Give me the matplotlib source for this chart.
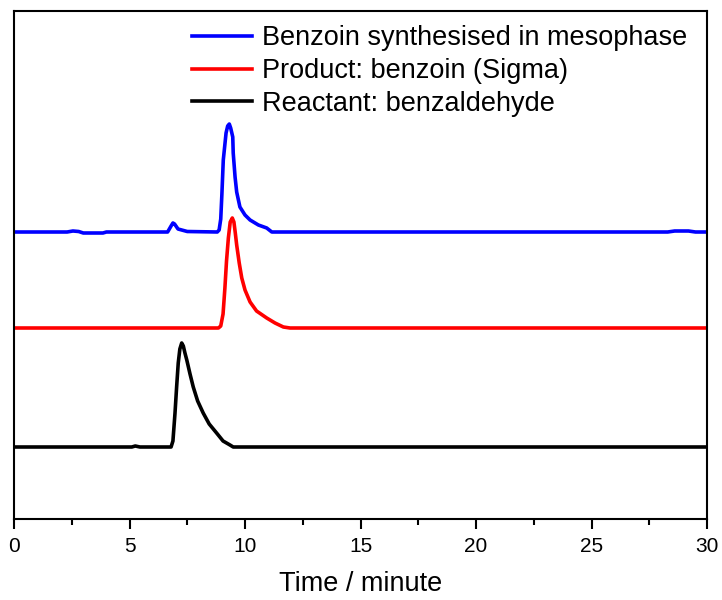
import matplotlib
matplotlib.use("Agg")
import matplotlib.pyplot as plt
from matplotlib.ticker import MultipleLocator

# ---- data (time in minutes, arbitrary intensity units) ----
blue_t = [0, 2.3, 2.55, 2.8, 3.0, 3.85, 4.0, 6.65, 6.8, 6.88, 6.95, 7.1, 7.5,
          8.8, 8.88, 8.95, 9.0, 9.06, 9.18, 9.25, 9.32, 9.38, 9.47, 9.49, 9.57, 9.64,
          9.78, 10.0, 10.22, 10.58, 10.94, 11.16, 28.3, 28.6, 29.2, 29.5, 30]
blue_v = [287, 287, 288, 287.5, 286, 286, 287, 287, 293, 296, 295, 290, 287.5,
          287, 289, 300, 325, 359, 386, 393, 395, 391, 382, 366, 342, 327,
          312, 304, 299, 294, 291, 287, 287, 288, 288, 287, 287]

red_t = [0, 8.85, 8.95, 9.05, 9.13, 9.2, 9.28, 9.36, 9.45, 9.52, 9.58, 9.64,
         9.75, 9.86, 10.0, 10.22, 10.5, 10.94, 11.3, 11.66, 11.95, 30]
red_v = [191, 191, 193, 205, 231, 258, 281, 297, 301, 297, 286, 274,
         256, 241, 229, 217, 208, 201, 196, 192, 191, 191]

black_t = [0, 5.1, 5.25, 5.45, 6.8, 6.88, 6.97, 7.04, 7.11, 7.18, 7.26, 7.33,
           7.40, 7.48, 7.62, 7.76, 7.95, 8.19, 8.45, 8.77, 9.05, 9.35, 9.49, 30]
black_v = [72, 72, 73, 72, 72, 78, 106, 132, 156, 170, 176, 173,
           166, 159, 145, 132, 118, 106, 95, 86, 78, 74, 72, 72]

labels = ["Benzoin synthesised in mesophase",
          "Product: benzoin (Sigma)",
          "Reactant: benzaldehyde"]
colors = ["#0000ff", "#ff0000", "#000000"]
xticks = [0, 5, 10, 15, 20, 25, 30]

plt.rcParams['font.family'] = ['Liberation Sans', 'DejaVu Sans']

fig = plt.figure(figsize=(7.22, 6.0), dpi=100)
ax = fig.add_axes([14/722, 81/600, (707-14)/722, (519-11)/600])

series = [(blue_t, blue_v), (red_t, red_v), (black_t, black_v)]
for (t, v), lab, c in zip(series, labels, colors):
    ax.plot(t, v, color=c, lw=2.6, label=lab, solid_joinstyle='round')

ax.set_xlim(0, 30)
ax.set_ylim(0, 508)
ax.set_xticks(xticks)
ax.set_xticklabels([str(x) for x in xticks])
ax.xaxis.set_minor_locator(MultipleLocator(2.5))
ax.set_yticks([])
ax.tick_params(axis='x', which='major', direction='out', length=7, width=1.5,
               labelsize=15, pad=6)
ax.tick_params(axis='x', which='minor', direction='out', length=4.5, width=1.5)
for sp in ax.spines.values():
    sp.set_linewidth(1.5)

ax.set_xlabel("Time / minute", fontsize=19.5, labelpad=11)

leg = ax.legend(loc='upper right', bbox_to_anchor=(0.995, 1.004), frameon=False,
                fontsize=19.5, handlelength=2.2, handletextpad=0.37,
                labelspacing=0.25, borderaxespad=0.2)
for line in leg.get_lines():
    line.set_linewidth(2.6)

fig.savefig("out.png", dpi=100)
